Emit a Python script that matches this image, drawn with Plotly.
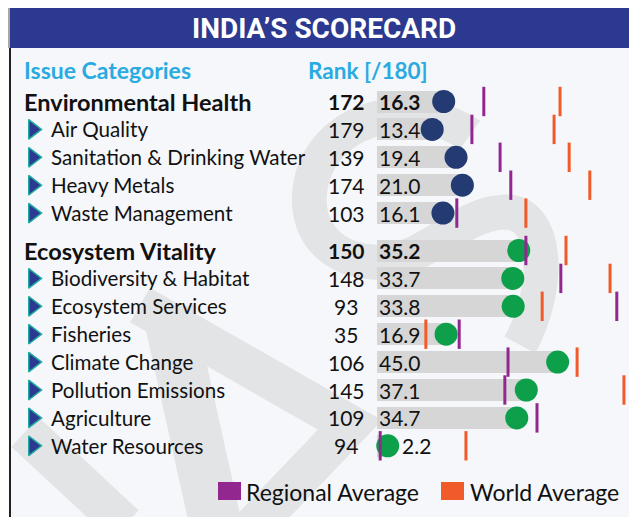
import plotly.graph_objects as go

# ---------------- data ----------------
categories = ["Environmental Health", "Air Quality", "Sanitation & Drinking Water",
              "Heavy Metals", "Waste Management", "Ecosystem Vitality",
              "Biodiversity & Habitat", "Ecosystem Services", "Fisheries",
              "Climate Change", "Pollution Emissions", "Agriculture", "Water Resources"]
is_group = [True, False, False, False, False, True, False, False, False, False, False, False, False]
ranks = [172, 179, 139, 174, 103, 150, 148, 93, 35, 106, 145, 109, 94]
scores = [16.3, 13.4, 19.4, 21.0, 16.1, 35.2, 33.7, 33.8, 16.9, 45.0, 37.1, 34.7, 2.2]
regional_avg = [26.4, 23.4, 30.5, 33.2, 19.6, 37.0, 45.8, 59.9, 20.2, 32.5, 31.7, 39.8, 0.3]
world_avg = [45.6, 44.1, 47.9, 53.1, 37.0, 47.1, 58.2, 41.1, 11.8, 49.9, 61.7, None, 21.9]

W, H = 637, 517
OFF = 8                          # page body margin offset
PX0, PXU = 379.0, 3.97           # page pixel of score 0, pixels per score unit
FONT = "Lato"


def fx(p):            # page x pixel -> paper
    return (p - OFF) / W


def fy(p):            # page y pixel -> y data (pixel axis)
    return p - OFF


# row centres (page pixels), with an extra gap before the second group
ys = []
dot_colors = []
grp = -1
for i, g in enumerate(is_group):
    if g:
        grp += 1
    ys.append(fy(101.5 + i * 27.9 + grp * 9.5))
    dot_colors.append("#233b72" if grp == 0 else "#0e9f4b")

fig = go.Figure()

# background bars
fig.add_trace(go.Bar(x=scores, y=ys, base=-0.5, orientation="h", width=22,
                     marker=dict(color="#d6d6d6", line=dict(width=0)),
                     hoverinfo="skip", showlegend=False))
# score dots
fig.add_trace(go.Scatter(x=scores, y=ys, mode="markers",
                         marker=dict(size=23, color=dot_colors, line=dict(width=0)),
                         hoverinfo="skip", showlegend=False))
# regional & world averages
fig.add_trace(go.Scatter(x=regional_avg, y=ys, mode="markers",
                         marker=dict(symbol="line-ns", size=21,
                                     line=dict(width=3, color="#92278f")),
                         hoverinfo="skip", showlegend=False))
wx = [w for w in world_avg if w is not None]
wy = [y for w, y in zip(world_avg, ys) if w is not None]
fig.add_trace(go.Scatter(x=wx, y=wy, mode="markers",
                         marker=dict(symbol="line-ns", size=21,
                                     line=dict(width=3, color="#f15a29")),
                         hoverinfo="skip", showlegend=False))

# arrows (pixel axis)
ax_y = [y for y, g in zip(ys, is_group) if not g]
fig.add_trace(go.Scatter(x=[33 - OFF] * len(ax_y), y=ax_y, xaxis="x2", mode="markers",
                         marker=dict(symbol="triangle-right", size=17, color="#2b3990",
                                     line=dict(width=1.5, color="#1fa8a0")),
                         hoverinfo="skip", showlegend=False))

ann = []
for cat, g, r, s, y in zip(categories, is_group, ranks, scores, ys):
    ann.append(dict(x=fx(22 if g else 49), y=y, xref="paper", yref="y",
                    text=("<b>%s</b>" % cat) if g else cat, showarrow=False,
                    xanchor="left", yanchor="middle",
                    font=dict(family=FONT, size=23.5 if g else 20.6, color="#111111")))
    ann.append(dict(x=fx(346), y=y, xref="paper", yref="y",
                    text=("<b>%d</b>" % r) if g else str(r), showarrow=False,
                    xanchor="center", yanchor="middle",
                    font=dict(family=FONT, size=21, color="#111111")))
    lx = -0.45 if s > 5 else s + 3.0
    ann.append(dict(x=lx, y=y, xref="x", yref="y",
                    text=("<b>%.1f</b>" % s) if g else "%.1f" % s, showarrow=False,
                    xanchor="left", yanchor="middle",
                    font=dict(family=FONT, size=21, color="#111111")))

# headers
ann.append(dict(x=fx(324), y=fy(28), xref="paper", yref="y", text="<b>INDIA’S SCORECARD</b>",
                showarrow=False, xanchor="center", yanchor="middle",
                font=dict(family="Roboto", size=28, color="white")))
ann.append(dict(x=fx(22), y=fy(70), xref="paper", yref="y", text="<b>Issue Categories</b>",
                showarrow=False, xanchor="left", yanchor="middle",
                font=dict(family=FONT, size=23, color="#29abe2")))
ann.append(dict(x=fx(306), y=fy(70), xref="paper", yref="y", text="<b>Rank [/180]</b>",
                showarrow=False, xanchor="left", yanchor="middle",
                font=dict(family=FONT, size=22.5, color="#29abe2")))
# legend
ann.append(dict(x=fx(244), y=fy(492), xref="paper", yref="y", text="Regional Average",
                showarrow=False, xanchor="left", yanchor="middle",
                font=dict(family=FONT, size=23, color="#111111")))
ann.append(dict(x=fx(468), y=fy(492), xref="paper", yref="y", text="World Average",
                showarrow=False, xanchor="left", yanchor="middle",
                font=dict(family=FONT, size=23, color="#111111")))

WM = "#e3e4e6"


def P(x, y):
    return "%g %g" % (x - OFF, y - OFF)


# faint logo watermark (decorative), drawn as thick strokes
watermark = [
    ("M " + P(470, 135) + " C " + P(420, 100) + ", " + P(335, 110) + ", " + P(313, 175)
     + " C " + P(300, 220) + ", " + P(322, 258) + ", " + P(372, 262)
     + " C " + P(425, 266) + ", " + P(455, 214) + ", " + P(505, 212)
     + " C " + P(548, 212) + ", " + P(552, 285) + ", " + P(520, 345), 35),
    ("M " + P(140, 305) + " L " + P(350, 425) + " L " + P(245, 535), 40),
    ("M " + P(168, 310) + " L " + P(218, 535), 52),
    ("M " + P(25, 432) + " L " + P(125, 525), 40),
]

shapes = [
    dict(type="rect", xref="paper", yref="y", x0=fx(10), x1=1.02, y0=fy(0), y1=H + 5,
         fillcolor="#f5f7fa", line=dict(width=0), layer="below"),
]
for wpath, wd in watermark:
    shapes.append(dict(type="path", xref="x2", yref="y", path=wpath,
                       line=dict(width=wd, color=WM), layer="below"))
shapes += [
    dict(type="rect", xref="paper", yref="y", x0=fx(10), x1=1.02, y0=fy(4), y1=fy(48),
         fillcolor="#2b3990", line=dict(width=0), layer="below"),
    dict(type="rect", xref="paper", yref="y", x0=0, x1=fx(9.5), y0=fy(0), y1=H + 5,
         fillcolor="white", line=dict(width=0), layer="below"),
    dict(type="line", xref="paper", yref="y", x0=fx(10), x1=fx(10), y0=fy(48), y1=H + 5,
         line=dict(width=2, color="#222222")),
    dict(type="line", xref="paper", yref="y", x0=fx(9), x1=fx(9), y0=fy(1), y1=fy(48),
         line=dict(width=1.5, color="#8a8a8a")),
    dict(type="line", xref="paper", yref="y", x0=fx(9), x1=1.02, y0=fy(1.5), y1=fy(1.5),
         line=dict(width=1.5, color="#8a8a8a")),
    dict(type="rect", xref="paper", yref="y", x0=fx(218), x1=fx(241), y0=fy(482), y1=fy(500),
         fillcolor="#92278f", line=dict(width=0)),
    dict(type="rect", xref="paper", yref="y", x0=fx(441), x1=fx(464), y0=fy(482), y1=fy(500),
         fillcolor="#f15a29", line=dict(width=0)),
]

fig.update_layout(
    width=W, height=H, margin=dict(l=0, r=0, t=0, b=0),
    paper_bgcolor="white", plot_bgcolor="rgba(0,0,0,0)",
    xaxis=dict(range=[(OFF - PX0) / PXU, (W + OFF - PX0) / PXU], visible=False, fixedrange=True),
    xaxis2=dict(range=[0, W], overlaying="x", visible=False, fixedrange=True),
    yaxis=dict(range=[H, 0], visible=False, fixedrange=True),
    annotations=ann, shapes=shapes, bargap=0,
)

fig.write_html("out.html")
